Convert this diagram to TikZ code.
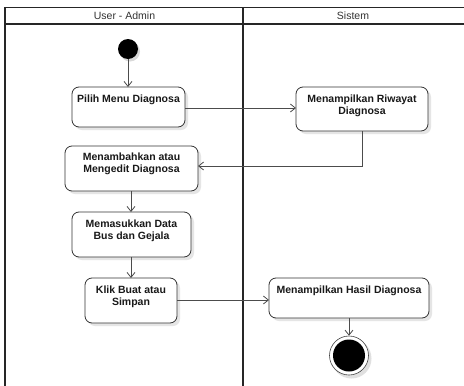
\documentclass[tikz,border=0pt]{standalone}
\usepackage{fontspec}
\setmainfont{Liberation Sans}
\usetikzlibrary{arrows.meta,shadows}
\begin{document}
\begin{tikzpicture}[x=1pt,y=-1pt,
  lane/.style={line width=1.4pt,draw=black!85},
  act/.style={draw=black!80,line width=0.8pt,rounded corners=7pt,fill=white,
    drop shadow={shadow xshift=3pt,shadow yshift=-3pt,fill=black!10,opacity=1}},
  lbl/.style={font=\fontsize{10.5}{12}\selectfont\bfseries,align=center,text=black!90},
  hdr/.style={font=\fontsize{10.5}{12}\selectfont,text=black!80},
  flow/.style={draw=black!70,line width=0.8pt,-{Straight Barb[length=5pt,width=8pt]}}]
\useasboundingbox (0,0) rectangle (464,386);
\clip (0,0) rectangle (464,386);
\fill[white] (0,0) rectangle (464,386);
% swimlane frame
\draw[lane] (5,400) -- (5,7.5) -- (470,7.5);
\draw[lane] (5,24) -- (470,24);
\draw[lane] (243,7.5) -- (243,400);
\node[hdr] (h1) at (124.5,15.5) {User - Admin};
\node[hdr] (h2) at (353,15.5) {Sistem};
% start node
\fill[black!15] (130,51.5) circle (10);
\node[circle,fill=black,minimum size=20pt,inner sep=0] (start) at (128,49) {};
% activities
\path[act] (72,87) rectangle (185,127);
\node[lbl,anchor=north] (a1) at (128.5,91.5) {Pilih Menu Diagnosa};
\coordinate (a1t) at (128,87);
\path[act] (296,87) rectangle (428,131);
\node[lbl,anchor=north] (s1) at (362,91.5) {Menampilkan Riwayat\\Diagnosa};
\path[act] (65,146) rectangle (198,191);
\node[lbl,anchor=north] (a2) at (131.5,149.5) {Menambahkan atau\\Mengedit Diagnosa};
\path[act] (72,212) rectangle (191,257);
\node[lbl,anchor=north] (a3) at (131.5,216.5) {Memasukkan Data\\Bus dan Gejala};
\path[act] (85,278) rectangle (177,323);
\node[lbl,anchor=north] (a4) at (131,282.5) {Klik Buat atau\\Simpan};
\path[act] (269,278) rectangle (429,318);
\node[lbl,anchor=north] (s2) at (349,282.5) {Menampilkan Hasil Diagnosa};
% anchor points on the activity borders
\coordinate (a1r) at (185,108);
\coordinate (s1l) at (296,108);
\coordinate (s1b) at (362,131);
\coordinate (a2r) at (198,166);
\coordinate (a2b) at (131,191);
\coordinate (a3t) at (131,212);
\coordinate (a3b) at (131,257);
\coordinate (a4t) at (131,278);
\coordinate (a4r) at (177,300);
\coordinate (s2l) at (269,300);
\coordinate (s2b) at (349,318);
% end node
\fill[black!12] (351.5,358.5) circle (20);
\node[circle,draw=black!75,line width=0.6pt,fill=white,minimum size=39pt,inner sep=0] (end) at (349,355.5) {};
\fill[black] (end.center) circle (16);
% flows
\draw[flow] (start) -- (a1t);
\draw[flow] (a1r) -- (s1l);
\draw[flow] (s1b) |- (a2r);
\draw[flow] (a2b) -- (a3t);
\draw[flow] (a3b) -- (a4t);
\draw[flow] (a4r) -- (s2l);
\draw[flow] (s2b) -- (end);
\end{tikzpicture}
\end{document}
